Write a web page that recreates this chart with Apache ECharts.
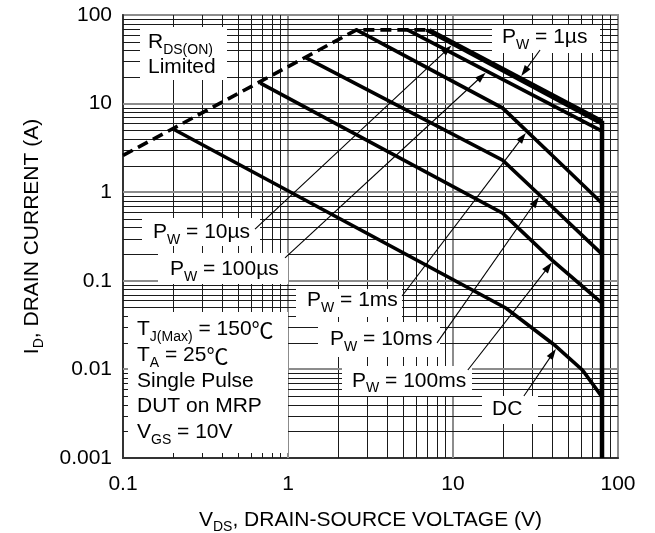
<!DOCTYPE html>
<html>
<head>
<meta charset="utf-8">
<script src="https://cdn.jsdelivr.net/npm/echarts@6/dist/echarts.min.js"></script>
<style>
  html, body { margin: 0; padding: 0; background: #fff; }
  #chart { width: 655px; height: 533px; }
</style>
</head>
<body>
<div id="chart"></div>
<script>
// Maximum safe operating area: drain current (A) vs drain-source voltage (V)
const rdsOnLimit = [[0.1, 2.6], [2.6, 68], [7.2, 68]];
const pw1us   = [[7.2, 68], [80, 6.4]];
const pw10us  = [[6.9, 68], [80, 5.9]];
const pw100us = [[5.3, 68], [80, 4.9]];
const pw1ms   = [[2.6, 68], [20, 8.9], [40, 2.6], [80, 0.75]];
const pw10ms  = [[1.28, 33], [20, 2.3], [40, 0.68], [80, 0.2]];
const pw100ms = [[0.68, 17], [20, 0.58], [40, 0.17], [80, 0.056]];
const dcCurve = [[0.2, 5.2], [21, 0.049], [41, 0.019], [61, 0.0098], [80, 0.0049]];
const bvdssLimit = [[80, 6.4], [80, 0.001]];

const xTickLabels = ['0.1', '1', '10', '100'];
const yTickLabels = ['0.001', '0.01', '0.1', '1', '10', '100'];

// Callout arrows: tail point and the voltage where the head meets its curve
const callouts = [
  { curve: pw1us,   tipV: 25.5, tail: [33.7, 40.3] },
  { curve: pw10us,  tipV: 10.0, tail: [0.631, 0.384] },
  { curve: pw100us, tipV: 16.1, tail: [0.959, 0.181] },
  { curve: pw1ms,   tipV: 28.1, tail: [4.91, 0.0674] },
  { curve: pw10ms,  tipV: 33.7, tail: [8.0, 0.0199] },
  { curve: pw100ms, tipV: 40.4, tail: [12.3, 0.00984] },
  { curve: dcCurve, tipV: 42.7, tail: [26.9, 0.00501] }
];

const X_MIN = 0.1, X_MAX = 100, Y_MIN = 0.001, Y_MAX = 100;
const FONT = '"Liberation Sans", Arial, Helvetica, sans-serif';
const CJK = '"Noto Sans CJK SC", "Liberation Sans", sans-serif';

// position on a piecewise straight (log-log) curve at voltage v
function curveAt(curve, v) {
  const lv = Math.log10(v);
  for (let i = 0; i < curve.length - 1; i++) {
    const a = curve[i], b = curve[i + 1];
    const la = Math.log10(a[0]), lb = Math.log10(b[0]);
    if (lv >= la && lv <= lb) {
      const t = (lv - la) / (lb - la);
      return Math.pow(10, Math.log10(a[1]) + t * (Math.log10(b[1]) - Math.log10(a[1])));
    }
  }
  return curve[curve.length - 1][1];
}

function decadeValues(lo, hi) {
  const out = [];
  for (let e = Math.round(Math.log10(lo)); e < Math.round(Math.log10(hi)); e++) {
    for (let m = 1; m < 10; m++) out.push(+(m * Math.pow(10, e)).toPrecision(3));
  }
  out.push(hi);
  return out;
}
function isDecade(v) {
  const l = Math.log10(v);
  return Math.abs(l - Math.round(l)) < 1e-6;
}
function tickLabel(list) {
  return function (v) {
    for (const s of list) {
      if (Math.abs(Math.log10(+s) - Math.log10(v)) < 1e-6) return s;
    }
    return '';
  };
}

const richMain = { fontSize: 21, fontFamily: FONT, verticalAlign: 'middle', lineHeight: 24 };
const richSub = { fontSize: 14, fontFamily: FONT, verticalAlign: 'middle', lineHeight: 14, padding: [15, 0, 0, 0] };
const richDeg = { fontSize: 22, fontFamily: CJK, verticalAlign: 'middle', lineHeight: 24 };
const rich = { m: richMain, s: richSub, c: richDeg };

const curveStyle = { color: '#000', width: 3.6, join: 'miter' };
function curveSeries(name, data, extra) {
  return Object.assign({
    name, type: 'line', data, showSymbol: false, symbol: 'none', z: 5,
    lineStyle: Object.assign({}, curveStyle), silent: true, clip: false
  }, extra || {});
}

function gridSeries(values, vertical) {
  return {
    type: 'custom', silent: true, z: 1, clip: false,
    data: values.filter(v => vertical ? (v > X_MIN && v < X_MAX) : (v > Y_MIN && v < Y_MAX))
                .map(v => vertical ? [v, Y_MIN] : [X_MIN, v]),
    renderItem(params, api) {
      const cs = params.coordSys;
      const v = vertical ? api.value(0) : api.value(1);
      const major = isDecade(v);
      const stroke = major ? '#8c8c8c' : '#1a1a1a';
      const lw = major ? 2 : 1;
      if (vertical) {
        let x = Math.round(api.coord([v, Y_MIN])[0]);
        if (!major) x += 0.5;
        return { type: 'line', shape: { x1: x, y1: cs.y, x2: x, y2: cs.y + cs.height }, style: { stroke, lineWidth: lw } };
      }
      let y = Math.round(api.coord([X_MIN, v])[1]);
      if (!major) y += 0.5;
      return { type: 'line', shape: { x1: cs.x, y1: y, x2: cs.x + cs.width, y2: y }, style: { stroke, lineWidth: lw } };
    }
  };
}

// arrows sit above the white label boxes so their tails start at the text
const arrowSeries = {
  type: 'custom', silent: true, z: 30, clip: false,
  dimensions: ['x0', 'y0', 'x1', 'y1'],
  encode: { x: [0, 2], y: [1, 3] },
  data: callouts.map(c => [c.tail[0], c.tail[1], c.tipV, curveAt(c.curve, c.tipV)]),
  renderItem(params, api) {
    const t = api.coord([api.value(0), api.value(1)]);
    const h = api.coord([api.value(2), api.value(3)]);
    const dx = h[0] - t[0], dy = h[1] - t[1];
    const len = Math.hypot(dx, dy), ux = dx / len, uy = dy / len;
    const tip = [h[0] - ux * 2, h[1] - uy * 2];
    const headLen = 11, headW = 3.6;
    const base = [tip[0] - ux * headLen, tip[1] - uy * headLen];
    const nx = -uy, ny = ux;
    return {
      type: 'group',
      children: [
        { type: 'line', shape: { x1: t[0], y1: t[1], x2: base[0] + ux * 2, y2: base[1] + uy * 2 }, style: { stroke: '#000', lineWidth: 1.1 } },
        { type: 'polygon', shape: { points: [tip, [base[0] + nx * headW, base[1] + ny * headW], [base[0] - nx * headW, base[1] - ny * headW]] }, style: { fill: '#000' } }
      ]
    };
  }
};

// white label boxes and their texts
function box(x, y, w, h) {
  return { type: 'rect', z: 20, silent: true, shape: { x, y, width: w, height: h }, style: { fill: '#fff' } };
}
function label(x, y, text) {
  return {
    type: 'text', z: 21, silent: true, x, y,
    style: { text, rich, fill: '#000', fontSize: 21, fontFamily: FONT, align: 'left', verticalAlign: 'middle' }
  };
}

const graphics = [
  box(140, 27, 87, 53),
  label(148, 42.7, '{m|R}{s|DS(ON)}'),
  label(148, 67.7, '{m|Limited}'),

  box(492, 25, 108, 28),
  label(502, 37.7, '{m|P}{s|W}{m| = 1µs}'),

  box(142, 218, 118, 28),
  label(153, 232.7, '{m|P}{s|W}{m| = 10µs}'),

  box(158, 253, 130, 31),
  label(170, 269.4, '{m|P}{s|W}{m| = 100µs}'),

  box(296, 289, 106, 28),
  label(307, 300.7, '{m|P}{s|W}{m| = 1ms}'),

  box(318, 322, 122, 35),
  label(330, 339.4, '{m|P}{s|W}{m| = 10ms}'),

  box(342, 366, 130, 30),
  label(352, 381, '{m|P}{s|W}{m| = 100ms}'),

  box(482, 396, 56, 28),
  label(492, 409.4, '{m|DC}'),

  box(128, 312, 160, 141),
  label(137, 329.7, '{m|T}{s|J(Max)}{m| = 150}{c|℃}'),
  label(137, 355.7, '{m|T}{s|A}{m| = 25}{c|℃}'),
  label(137, 381.7, '{m|Single Pulse}'),
  label(137, 406.7, '{m|DUT on MRP}'),
  label(137, 432.7, '{m|V}{s|GS}{m| = 10V}')
];

const chart = echarts.init(document.getElementById('chart'), null, { renderer: 'canvas' });
chart.setOption({
  animation: false,
  backgroundColor: '#fff',
  grid: {
    left: 123, right: 37, top: 15, bottom: 75,
    containLabel: false, outerBoundsMode: 'none',
    show: true, borderColor: '#8c8c8c', borderWidth: 2, backgroundColor: 'transparent'
  },
  xAxis: {
    type: 'log', logBase: 10, min: X_MIN, max: X_MAX,
    axisLine: { show: true, onZero: false, lineStyle: { color: '#333', width: 2 } },
    axisTick: { show: false },
    splitLine: { show: false },
    axisLabel: { formatter: tickLabel(xTickLabels), fontSize: 21, fontFamily: FONT, color: '#000', margin: 16 },
    name: '{m|V}{s|DS}{m|, DRAIN-SOURCE VOLTAGE (V)}',
    nameLocation: 'middle', nameGap: 50,
    nameTextStyle: { color: '#000', fontSize: 21, fontFamily: FONT, rich }
  },
  yAxis: {
    type: 'log', logBase: 10, min: Y_MIN, max: Y_MAX,
    axisLine: { show: true, onZero: false, lineStyle: { color: '#333', width: 2 } },
    axisTick: { show: false },
    splitLine: { show: false },
    axisLabel: { formatter: tickLabel(yTickLabels), fontSize: 21, fontFamily: FONT, color: '#000', margin: 11 },
    name: '{m|I}{s|D}{m|, DRAIN CURRENT (A)}',
    nameLocation: 'middle', nameGap: 79, nameRotate: 90,
    nameTextStyle: { color: '#000', fontSize: 21, fontFamily: FONT, rich }
  },
  series: [
    gridSeries(decadeValues(X_MIN, X_MAX), true),
    gridSeries(decadeValues(Y_MIN, Y_MAX), false),
    curveSeries('RDS(ON) Limited', rdsOnLimit, { lineStyle: Object.assign({}, curveStyle, { type: [11, 6] }) }),
    curveSeries('PW = 1µs', pw1us),
    curveSeries('PW = 10µs', pw10us),
    curveSeries('PW = 100µs', pw100us),
    curveSeries('PW = 1ms', pw1ms),
    curveSeries('PW = 10ms', pw10ms),
    curveSeries('PW = 100ms', pw100ms),
    curveSeries('DC', dcCurve),
    curveSeries('BVDSS', bvdssLimit, { lineStyle: Object.assign({}, curveStyle, { width: 4.5 }) }),
    arrowSeries
  ],
  graphic: graphics
});
</script>
</body>
</html>
